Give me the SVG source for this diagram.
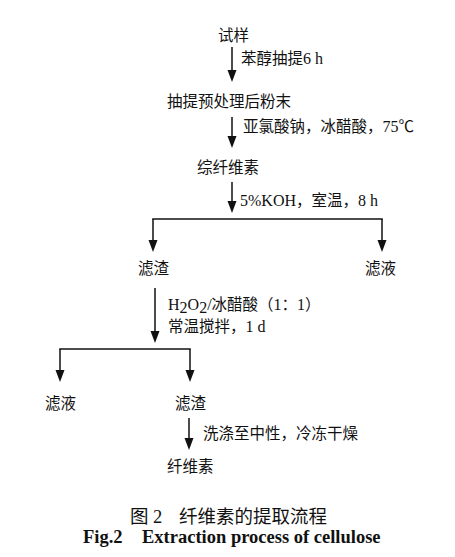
<svg xmlns="http://www.w3.org/2000/svg" width="455" height="557" viewBox="0 0 455 557">
<style>
.t{font-family:"Liberation Serif","Noto Sans CJK SC",serif;font-size:15.5px;fill:#111}
.l{font-family:"Liberation Serif","Noto Sans CJK SC",serif;font-size:16px}
.c{font-family:"Noto Sans CJK SC",sans-serif;font-size:18.5px;fill:#111}
.e{font-family:"Liberation Serif",serif;font-size:18.5px;font-weight:bold;fill:#111}
.n{font-family:"Liberation Serif",serif;font-size:18.5px;fill:#111}
.w{fill:none;stroke:#111;stroke-width:1.5}
</style>
<defs>
<marker id="ah" markerUnits="userSpaceOnUse" markerWidth="16" markerHeight="12" viewBox="-14 -6 16 12" refX="-3" refY="0" orient="auto">
<path d="M0,0 L-12,-4.5 L-12,4.5 z" fill="#111"/>
</marker>
</defs>
<rect width="455" height="557" fill="#fff"/>
<g id="connectors">
<line class="w" x1="232" y1="47" x2="232" y2="79" marker-end="url(#ah)"/>
<line class="w" x1="232" y1="117" x2="232" y2="145" marker-end="url(#ah)"/>
<line class="w" x1="232" y1="182" x2="232" y2="210" marker-end="url(#ah)"/>
<line class="w" x1="152.25" y1="219" x2="382.75" y2="219"/>
<line class="w" x1="153" y1="219" x2="153" y2="249" marker-end="url(#ah)"/>
<line class="w" x1="382" y1="219" x2="382" y2="249" marker-end="url(#ah)"/>
<line class="w" x1="155" y1="288" x2="155" y2="340" marker-end="url(#ah)"/>
<line class="w" x1="59.25" y1="349" x2="190.75" y2="349"/>
<line class="w" x1="60" y1="349" x2="60" y2="379" marker-end="url(#ah)"/>
<line class="w" x1="190" y1="349" x2="190" y2="379" marker-end="url(#ah)"/>
<line class="w" x1="189" y1="418" x2="189" y2="447" marker-end="url(#ah)"/>
</g>
<g id="n-sample"><text class="t" x="218" y="41">试样</text></g>
<g id="e-1"><text class="t" x="241" y="64">苯醇抽提<tspan class="l">6 h</tspan></text></g>
<g id="n-powder"><text class="t" x="167" y="107">抽提预处理后粉末</text></g>
<g id="e-2"><text class="t" x="243" y="132">亚氯酸钠，冰醋酸，<tspan class="l">75</tspan>℃</text></g>
<g id="n-holo"><text class="t" x="197" y="173">综纤维素</text></g>
<g id="e-3"><text class="t" x="240" y="206"><tspan class="l">5%KOH</tspan>，室温，<tspan class="l">8 h</tspan></text></g>
<g id="n-residue1"><text class="t" x="138" y="274">滤渣</text></g>
<g id="n-filtrate1"><text class="t" x="365" y="274">滤液</text></g>
<g id="e-4">
<text class="t" x="168" y="310"><tspan class="l">H</tspan><tspan class="l" font-size="10" dy="3">2</tspan><tspan class="l" dy="-3">O</tspan><tspan class="l" font-size="10" dy="3">2</tspan><tspan class="l" dy="-3">/</tspan>冰醋酸（<tspan class="l">1</tspan>：<tspan class="l">1</tspan>）</text>
<text class="t" x="168" y="332">常温搅拌，<tspan class="l">1 d</tspan></text>
</g>
<g id="n-filtrate2"><text class="t" x="45" y="409">滤液</text></g>
<g id="n-residue2"><text class="t" x="175" y="409">滤渣</text></g>
<g id="e-5"><text class="t" x="203" y="439">洗涤至中性，冷冻干燥</text></g>
<g id="n-cellulose"><text class="t" x="167" y="472">纤维素</text></g>
<g id="caption">
<text class="c" x="130" y="523">图</text>
<text class="n" x="153" y="523">2</text>
<text class="c" x="179" y="523">纤维素的提取流程</text>
<text class="e" x="83" y="543">Fig.2</text>
<text class="e" x="142" y="543">Extraction process of cellulose</text>
</g>
</svg>
